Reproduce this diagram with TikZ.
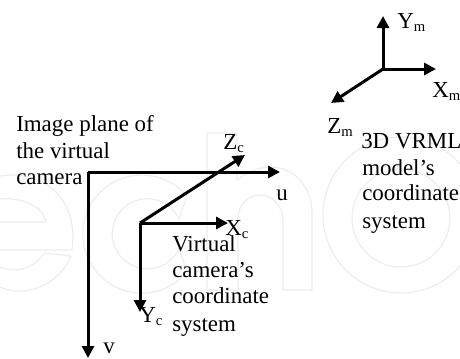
\documentclass[tikz,border=0pt]{standalone}
\usepackage{fontspec}
\setmainfont{Liberation Serif}
\usetikzlibrary{arrows.meta}
\tikzset{
 axis/.style={line width=2.25pt,-{Triangle[length=9pt,width=9pt]}},
 lab/.style={font=\fontsize{17.2pt}{20pt}\selectfont,inner sep=0pt,anchor=base west},
 wm/.style={draw=black!7,line width=0.9pt,line join=round,line cap=round}
}
\newcommand{\sbs}[1]{\raisebox{-2.5pt}{\fontsize{11pt}{12pt}\selectfont #1}}
\begin{document}
\begin{tikzpicture}[x=0.75pt,y=-0.75pt]
\useasboundingbox (0,0) rectangle (460,358);
\fill[white] (0,0) rectangle (460,358);
% watermark: e
\begin{scope}
\clip (0,0) rectangle (460,358);
\draw[wm] (0,176) .. controls (35,170) and (73,190) .. (73,238) -- (72,250) -- (0,250);
\draw[wm] (0,222) -- (46,222) .. controls (44,208) and (25,197) .. (0,199);
\draw[wm] (0,267) .. controls (15,274) and (35,268) .. (44,253) -- (71,256) .. controls (62,280) and (30,300) .. (0,287);
% watermark: c
\draw[wm] (187,272) arc[start angle=40,end angle=320,radius=59] -- (179,219) arc[start angle=-25,end angle=-335,radius=35] -- cycle;
% watermark: n
\draw[wm] (207,133) -- (237,133) -- (237,180) .. controls (250,170) and (262,167) .. (270,167) .. controls (295,167) and (312,188) .. (312,212) -- (312,290) -- (283,290) -- (283,222) .. controls (283,205) and (272,195) .. (260,195) .. controls (248,195) and (238,205) .. (238,218) -- (238,290) -- (207,290) -- cycle;
% watermark: o
\draw[wm] (401,215) circle[radius=78];
\draw[wm] (401,218) circle[radius=49];
\end{scope}
% axes
\coordinate (o) at (88,172);
\coordinate (u) at (280,172);
\coordinate (v) at (88,358);
\coordinate (c) at (140,223);
\coordinate (zc) at (245,155);
\coordinate (xc) at (228,223);
\coordinate (yc) at (140,312);
\coordinate (m) at (383,69);
\coordinate (ym) at (383,16);
\coordinate (xm) at (436,69);
\coordinate (zm) at (331,103);
\draw[axis] (o) -- (u);
\draw[axis] (o) -- (v);
\draw[axis] (c) -- (xc);
\draw[axis] (c) -- (yc);
\draw[axis] (c) -- (zc);
\draw[axis] (m) -- (ym);
\draw[axis] (m) -- (xm);
\draw[axis] (m) -- (zm);
\node[lab] (t1) at (16,131) {Image plane of};
\node[lab] (t2) at (16,158) {the virtual};
\node[lab] (t3) at (16,184) {camera};
\node[lab] (tu) at (276,200) {u};
\node[lab] (tv) at (103,353) {v};
\node[lab] (tz) at (223,149) {Z\sbs{c}};
\node[lab] (tx) at (225,235) {X\sbs{c}};
\node[lab] (ty) at (139,322) {Y\sbs{c}};
\node[lab] (a1) at (172,251) {Virtual};
\node[lab] (a2) at (172,277) {camera’s};
\node[lab] (a3) at (172,303) {coordinate};
\node[lab] (a4) at (172,331) {system};
\node[lab] (tym) at (397,28) {Y\sbs{m}};
\node[lab] (txm) at (432,97) {X\sbs{m}};
\node[lab] (tzm) at (327,133) {Z\sbs{m}};
\node[lab] (b1) at (361,148) {3D VRML};
\node[lab] (b2) at (362,175) {model’s};
\node[lab] (b3) at (362,200) {coordinate};
\node[lab] (b4) at (362,228) {system};
\end{tikzpicture}
\end{document}
